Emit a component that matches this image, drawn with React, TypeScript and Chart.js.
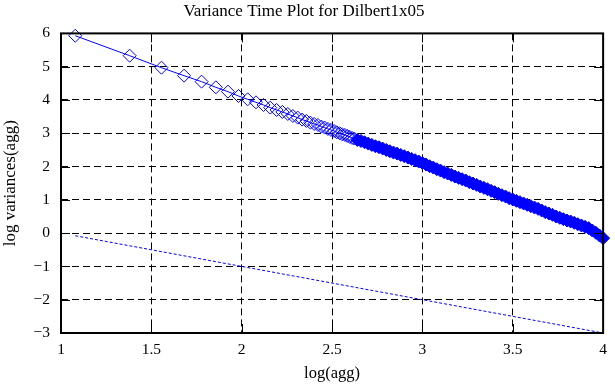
import React, { useEffect, useRef } from 'react';
import { Chart, registerables } from 'chart.js';

Chart.register(...registerables);

const TITLE = 'Variance Time Plot for Dilbert1x05';
const X_LABEL = 'log(agg)';
const Y_LABEL = 'log variances(agg)';

const X_TICKS = [1, 1.5, 2, 2.5, 3, 3.5, 4];
const Y_TICKS = [-3, -2, -1, 0, 1, 2, 3, 4, 5, 6];

// log10 of aggregation level
const logAgg = [
  1.079, 1.380, 1.556, 1.681, 1.778, 1.857, 1.924, 1.982, 2.033, 2.079,
  2.121, 2.158, 2.193, 2.225, 2.255, 2.283, 2.310, 2.334, 2.358, 2.380,
  2.401, 2.422, 2.441, 2.459, 2.477, 2.494, 2.511, 2.526, 2.542, 2.556,
  2.571, 2.584, 2.598, 2.611, 2.623,
  2.64, 2.66, 2.68, 2.70, 2.72, 2.74, 2.76, 2.78, 2.80, 2.82,
  2.84, 2.86, 2.88, 2.90, 2.92, 2.94, 2.96, 2.98, 3.00, 3.02,
  3.04, 3.06, 3.08, 3.10, 3.12, 3.14, 3.16, 3.18, 3.20, 3.22,
  3.24, 3.26, 3.28, 3.30, 3.32, 3.34, 3.36, 3.38, 3.40, 3.42,
  3.44, 3.46, 3.48, 3.50, 3.52, 3.54, 3.56, 3.58, 3.60, 3.62,
  3.64, 3.66, 3.68, 3.70, 3.72, 3.74, 3.76, 3.78, 3.80, 3.82,
  3.84, 3.86, 3.88, 3.90, 3.92, 3.94, 3.96, 3.98, 4.00,
];

// log10 of variance of aggregated series
const logVar = [
  5.93, 5.33, 4.97, 4.73, 4.55, 4.38, 4.25, 4.12, 4.02, 3.93,
  3.85, 3.77, 3.70, 3.64, 3.58, 3.52, 3.47, 3.41, 3.37, 3.32,
  3.28, 3.25, 3.20, 3.17, 3.13, 3.10, 3.07, 3.03, 3.00, 2.97,
  2.95, 2.92, 2.89, 2.86, 2.84,
  2.80, 2.77, 2.73, 2.69, 2.65, 2.61, 2.58, 2.54, 2.50, 2.46,
  2.42, 2.39, 2.35, 2.31, 2.27, 2.23, 2.19, 2.15, 2.11, 2.06,
  2.01, 1.97, 1.92, 1.88, 1.83, 1.79, 1.75, 1.70, 1.66, 1.62,
  1.58, 1.53, 1.49, 1.45, 1.40, 1.36, 1.32, 1.27, 1.23, 1.18,
  1.14, 1.10, 1.05, 1.01, 0.97, 0.93, 0.89, 0.85, 0.81, 0.77,
  0.73, 0.68, 0.63, 0.59, 0.55, 0.50, 0.46, 0.42, 0.38, 0.35,
  0.31, 0.27, 0.23, 0.19, 0.15, 0.08, 0.01, -0.07, -0.15,
];

// reference line of slope -1
const refX = [1.079, 4.0];
const refY = [-0.079, -3.0];

const BLUE = '#0000ff';
const SERIF = '"Liberation Serif", "Times New Roman", serif';
const FILLED_FROM = 2.63;

const fmt = (v: number) => (v < 0 ? '\u2212' + Math.abs(v) : String(v));

const framePlugin = {
  id: 'frame',
  afterDraw(chart: any) {
    const { ctx, chartArea, scales } = chart;
    const { left, right, top, bottom } = chartArea;
    const x = scales.x;
    const y = scales.y;
    const T = 9;
    ctx.save();
    ctx.strokeStyle = '#000';
    ctx.lineWidth = 1;
    ctx.setLineDash([]);
    ctx.beginPath();
    X_TICKS.forEach((v) => {
      const p = Math.round(x.getPixelForValue(v)) + 0.5;
      ctx.moveTo(p, bottom);
      ctx.lineTo(p, bottom - T);
      ctx.moveTo(p, top);
      ctx.lineTo(p, top + T);
    });
    Y_TICKS.forEach((v) => {
      const p = Math.round(y.getPixelForValue(v)) + 0.5;
      ctx.moveTo(left, p);
      ctx.lineTo(left + T, p);
      ctx.moveTo(right, p);
      ctx.lineTo(right - T, p);
    });
    ctx.stroke();
    ctx.lineWidth = 2;
    ctx.strokeRect(left, top, right - left, bottom - top);
    ctx.restore();
  },
};

export default function App() {
  const ref = useRef<HTMLCanvasElement | null>(null);

  useEffect(() => {
    if (!ref.current) return;
    const mainData = logAgg.map((v, i) => ({ x: v, y: logVar[i] }));
    const refData = refX.map((v, i) => ({ x: v, y: refY[i] }));

    const chart = new Chart(ref.current, {
      type: 'line',
      data: {
        datasets: [
          {
            label: 'variance',
            data: mainData,
            borderColor: BLUE,
            borderWidth: 1,
            pointStyle: 'rectRot',
            pointRadius: 6.5,
            pointBorderWidth: 1,
            pointBorderColor: BLUE,
            pointBackgroundColor: (c: any) =>
              logAgg[c.dataIndex] >= FILLED_FROM ? BLUE : 'rgba(0,0,0,0)',
            fill: false,
            tension: 0,
            clip: false as any,
          },
          {
            label: 'reference',
            data: refData,
            borderColor: BLUE,
            borderWidth: 1,
            borderDash: [3, 2],
            pointRadius: 0,
            fill: false,
            tension: 0,
          },
        ],
      },
      options: {
        responsive: false,
        animation: false,
        events: [],
        layout: { padding: { left: 0, right: 7, top: 0, bottom: 0 } },
        plugins: {
          legend: { display: false },
          tooltip: { enabled: false },
          title: {
            display: true,
            text: TITLE,
            color: '#000',
            font: { family: SERIF, size: 17, weight: 'normal' },
            padding: { top: 1, bottom: 12 },
          },
        },
        scales: {
          x: {
            type: 'linear',
            min: 1,
            max: 4,
            afterBuildTicks: (s: any) => {
              s.ticks = X_TICKS.map((v) => ({ value: v }));
            },
            afterFit: (s: any) => {
              s.height = 55;
            },
            ticks: {
              color: '#000',
              font: { family: SERIF, size: 15.5 },
              padding: 8,
              maxRotation: 0,
              autoSkip: false,
              callback: (v: any) => fmt(Number(v)),
            },
            grid: { color: '#000', lineWidth: 1, drawTicks: false },
            border: { display: false, dash: [7, 4] },
            title: {
              display: true,
              text: X_LABEL,
              color: '#000',
              font: { family: SERIF, size: 16.5 },
              padding: { top: 0, bottom: 4 },
            },
          },
          y: {
            type: 'linear',
            min: -3,
            max: 6,
            afterBuildTicks: (s: any) => {
              s.ticks = Y_TICKS.map((v) => ({ value: v }));
            },
            afterFit: (s: any) => {
              s.width = 61;
            },
            ticks: {
              color: '#000',
              font: { family: SERIF, size: 15.5 },
              padding: 11,
              autoSkip: false,
              callback: (v: any) => fmt(Number(v)),
            },
            grid: { color: '#000', lineWidth: 1, drawTicks: false },
            border: { display: false, dash: [7, 4] },
            title: {
              display: true,
              text: Y_LABEL,
              color: '#000',
              font: { family: SERIF, size: 17 },
              padding: { top: 0, bottom: 0 },
            },
          },
        },
      },
      plugins: [framePlugin],
    } as any);

    return () => chart.destroy();
  }, []);

  return (
    <div style={{ position: 'absolute', left: 0, top: 0, width: 615, height: 388, background: '#fff' }}>
      <canvas ref={ref} width={615} height={388} style={{ display: 'block' }} />
    </div>
  );
}
